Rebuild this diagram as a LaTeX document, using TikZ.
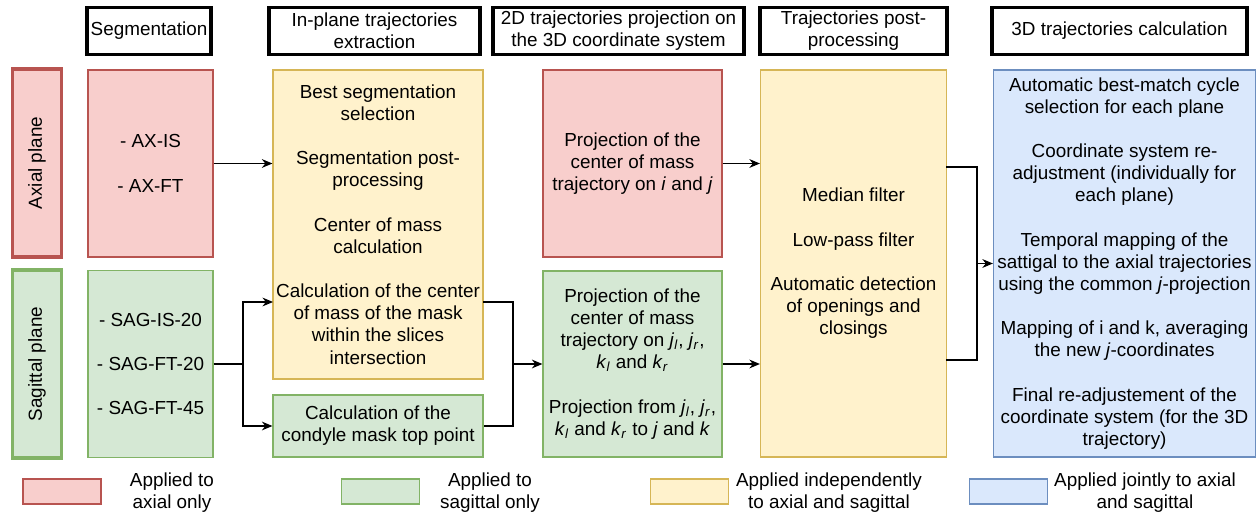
\documentclass[tikz,border=0pt]{standalone}
\usepackage{fontspec}
\setmainfont{Liberation Sans}
\usetikzlibrary{arrows.meta}

\definecolor{axline}{HTML}{B85450}
\definecolor{axfill}{HTML}{F8CECC}
\definecolor{sagline}{HTML}{82B366}
\definecolor{sagfill}{HTML}{D5E8D4}
\definecolor{indline}{HTML}{D6B656}
\definecolor{indfill}{HTML}{FFF2CC}
\definecolor{jntline}{HTML}{6C8EBF}
\definecolor{jntfill}{HTML}{DAE8FC}

\newcommand{\blank}{\\[12.6pt]}
\newcommand{\vsub}[2]{\textit{#1}\textsubscript{\textit{#2}}}

\tikzset{
    txt/.style={inner sep=0pt, align=center, font=\fontsize{10.75}{12.6}\selectfont},
    box/.style={txt, draw, line width=0.7pt},
    head/.style={box, line width=2.2pt, minimum height=0.94cm},
    ax/.style={box, draw=axline, fill=axfill},
    sag/.style={box, draw=sagline, fill=sagfill},
    ind/.style={box, draw=indline, fill=indfill},
    jnt/.style={box, draw=jntline, fill=jntfill},
    plane/.style={rotate=90, line width=1.8pt, minimum width=3.76cm, minimum height=0.98cm},
    swatch/.style={minimum width=1.56cm, minimum height=0.5cm},
    arr/.style={-{Stealth[length=6pt,width=5pt]}, line width=0.6pt},
    link/.style={line width=0.6pt}
}

\begin{document}
\begin{tikzpicture}[x=0.02cm, y=-0.02cm]
    \useasboundingbox (0,0) rectangle (1257,516);
    %headers
    \node[head, minimum width=2.48cm] (hSeg) at (149,31) {Segmentation};
    \node[head, minimum width=4.22cm] (hIn) at (374.5,31) {In-plane trajectories\\extraction};
    \node[head, minimum width=5.02cm] (h2D) at (618.5,31) {2D trajectories projection on\\the 3D coordinate system};
    \node[head, minimum width=3.74cm] (hPost) at (853.5,31) {Trajectories post-\\processing};
    \node[head, minimum width=5.10cm] (h3D) at (1119.5,31) {3D trajectories calculation};
    %planes
    \node[ax, plane] (pAx) at (37,163) {Axial plane};
    \node[sag, plane] (pSag) at (37,364) {Sagittal plane};
    %boxes
    \node[ax, minimum width=2.5cm, minimum height=3.74cm] (segAx) at (150.5,163.5) {- AX-IS\blank - AX-FT};
    \node[sag, minimum width=2.5cm, minimum height=3.74cm] (segSag) at (150.5,364) {- SAG-IS-20\blank - SAG-FT-20\blank - SAG-FT-45};
    \node[ind, minimum width=4.2cm, minimum height=6.18cm] (inYel) at (378,224.5)
        {Best segmentation\\selection\blank Segmentation post-\\processing\blank Center of mass\\calculation\blank Calculation of the center\\of mass of the mask\\within the slices\\intersection};
    \node[sag, minimum width=4.2cm, minimum height=1.24cm] (inCond) at (378,426) {Calculation of the\\condyle mask top point};
    \node[ax, minimum width=3.58cm, minimum height=3.74cm] (prAx) at (632.5,163.5)
        {Projection of the\\center of mass\\trajectory on \textit{i} and \textit{j}};
    \node[sag, minimum width=3.58cm, minimum height=3.72cm] (prSag) at (632.5,364)
        {Projection of the\\center of mass\\trajectory on \vsub{j}{l}, \vsub{j}{r},\\\vsub{k}{l} and \vsub{k}{r}\blank Projection from \vsub{j}{l}, \vsub{j}{r},\\\vsub{k}{l} and \vsub{k}{r} to \textit{j} and \textit{k}};
    \node[ind, minimum width=3.72cm, minimum height=7.74cm] (post) at (853.5,263.5)
        {Median filter\blank Low-pass filter\blank Automatic detection\\of openings and\\closings};
    \node[jnt, minimum width=5.24cm, minimum height=7.74cm] (calc3D) at (1124.5,263.5)
        {Automatic best-match cycle\\selection for each plane\blank Coordinate system re-\\adjustment (individually for\\each plane)\blank Temporal mapping of the\\sattigal to the axial trajectories\\using the common \textit{j}-projection\blank Mapping of i and k, averaging\\the new \textit{j}-coordinates\blank Final re-adjustement of the\\coordinate system (for the 3D\\trajectory)};
    %arrows
    \coordinate (brS) at (243,364);
    \coordinate (inY2) at (273,302);
    \coordinate (inY3) at (483,302);
    \coordinate (mrg) at (513,364);
    \coordinate (poA) at (946,167);
    \coordinate (poS) at (946,360);
    \coordinate (brP) at (977,263.5);
    \draw[arr] (segAx.east) -- (segAx.east -| inYel.west);
    \draw[arr] (segSag.east) -- (brS) |- (inY2);
    \draw[arr] (brS) |- (inCond.west);
    \draw[link] (inY3) -| (mrg) |- (inCond.east);
    \draw[arr] (mrg) -- (prSag.west);
    \draw[arr] (prAx.east) -- (prAx.east -| post.west);
    \draw[arr] (prSag.east) -- (prSag.east -| post.west);
    \draw[link] (poA) -| (brP) |- (poS);
    \draw[arr] (brP) -- (calc3D.west);
    %legend
    \node[ax, swatch] (lAx) at (62,491.5) {};
    \node[txt] (tAx) at (172,492.5) {Applied to\\axial only};
    \node[sag, swatch] (lSag) at (380.5,491.5) {};
    \node[txt] (tSag) at (490,492.5) {Applied to\\sagittal only};
    \node[ind, swatch] (lInd) at (689.5,491.5) {};
    \node[txt] (tInd) at (829,492.5) {Applied independently\\to axial and sagittal};
    \node[jnt, swatch] (lJnt) at (1008.5,491.5) {};
    \node[txt] (tJnt) at (1145,492.5) {Applied jointly to axial\\and sagittal};
\end{tikzpicture}
\end{document}
